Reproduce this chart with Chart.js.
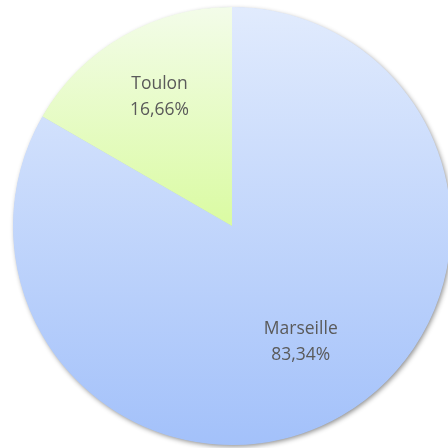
<!DOCTYPE html>
<html>
<head>
<meta charset="utf-8">
<script src="https://cdn.jsdelivr.net/npm/chart.js@4"></script>
<style>
  html, body { margin: 0; padding: 0; background: #ffffff; overflow: hidden; width: 448px; height: 448px; }
  #wrap { position: absolute; left: 0; top: 0; width: 464px; height: 448px; }
</style>
</head>
<body>
<div id="wrap"><canvas id="chart"></canvas></div>
<script>
// data
const categories = ['Marseille', 'Toulon'];
const shares = [83.34, 16.66];
// label placement along the radius (fraction of outer radius)
const labelRadius = [0.61, 0.68];

// vertical gradients, top colour -> bottom colour
const gradientStops = [
    ['#e1ebfd', '#a3c1fa'],
    ['#f3fce9', '#dafba2']
];

function sliceFill(context) {
    const chart = context.chart;
    const area = chart.chartArea;
    const stops = gradientStops[context.dataIndex];
    if (!area) return stops[1];
    const top = area.top;
    const bottom = context.dataIndex === 1 ? (area.top + area.bottom) / 2 : area.bottom;
    const g = chart.ctx.createLinearGradient(0, top, 0, bottom);
    g.addColorStop(0, stops[0]);
    g.addColorStop(1, stops[1]);
    return g;
}

// soft drop shadow under the whole pie
const pieShadow = {
    id: 'pieShadow',
    beforeDatasetsDraw(chart) {
        const arc = chart.getDatasetMeta(0).data[0];
        if (!arc) return;
        const ctx = chart.ctx;
        ctx.save();
        ctx.shadowColor = 'rgba(0,0,0,0.45)';
        ctx.shadowBlur = 5;
        ctx.shadowOffsetX = 1.5;
        ctx.shadowOffsetY = 2;
        ctx.fillStyle = '#b0c4ea';
        ctx.beginPath();
        ctx.arc(arc.x, arc.y, arc.outerRadius - 0.5, 0, Math.PI * 2);
        ctx.fill();
        ctx.restore();
    }
};

// name + percentage inside each slice
const sliceLabels = {
    id: 'sliceLabels',
    afterDatasetsDraw(chart) {
        const ctx = chart.ctx;
        const meta = chart.getDatasetMeta(0);
        const total = shares.reduce((a, b) => a + b, 0);
        ctx.save();
        ctx.fillStyle = '#5a5a5a';
        ctx.font = '17.5px "Open Sans", sans-serif';
        ctx.textAlign = 'center';
        ctx.textBaseline = 'middle';
        meta.data.forEach((arc, i) => {
            const p = arc.getProps(['x', 'y', 'startAngle', 'endAngle', 'outerRadius'], true);
            const mid = (p.startAngle + p.endAngle) / 2;
            const r = p.outerRadius * labelRadius[i];
            const cx = p.x + Math.cos(mid) * r + 2;
            const cy = p.y + Math.sin(mid) * r;
            const pct = (shares[i] / total * 100).toFixed(2).replace('.', ',') + '%';
            ctx.fillText(categories[i], cx, cy - 13);
            ctx.fillText(pct, cx, cy + 13);
        });
        ctx.restore();
    }
};

new Chart(document.getElementById('chart'), {
    type: 'pie',
    data: {
        labels: categories,
        datasets: [{
            data: shares,
            backgroundColor: sliceFill,
            borderWidth: 0
        }]
    },
    options: {
        responsive: true,
        maintainAspectRatio: false,
        animation: false,
        layout: { padding: { left: 13, right: 13, top: 7, bottom: 3 } },
        plugins: {
            legend: { display: false },
            tooltip: { enabled: false }
        }
    },
    plugins: [pieShadow, sliceLabels]
});
</script>
</body>
</html>
